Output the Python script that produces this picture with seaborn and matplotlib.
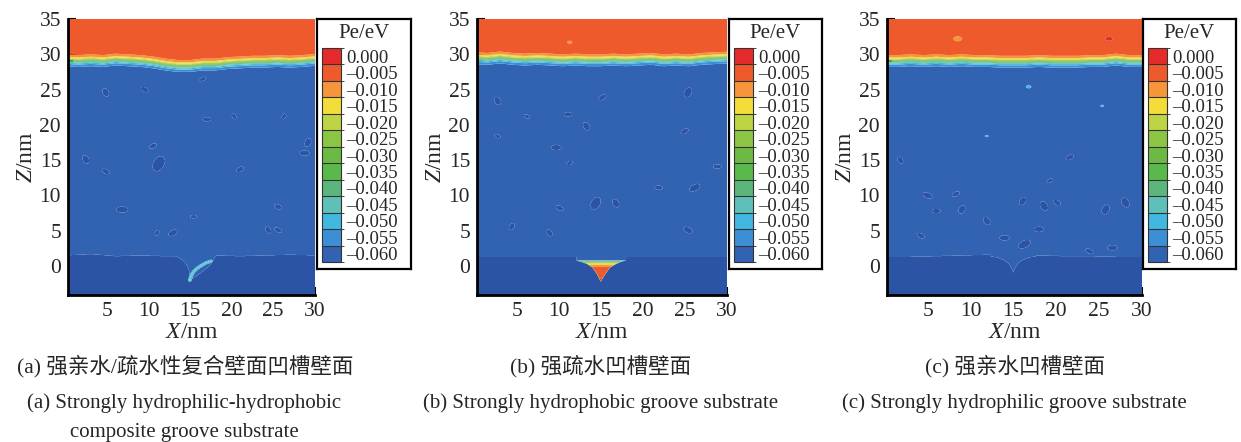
import numpy as np
import matplotlib
matplotlib.use("Agg")
import matplotlib.pyplot as plt
import seaborn as sns
from matplotlib.colors import ListedColormap, BoundaryNorm
from matplotlib.cm import ScalarMappable
from matplotlib.ticker import MultipleLocator, FixedLocator

sns.set_style("ticks")
plt.rcParams["font.family"] = ["Liberation Serif", "Noto Sans CJK SC", "DejaVu Sans"]
plt.rcParams["mathtext.fontset"] = "custom"
plt.rcParams["mathtext.it"] = "Liberation Serif:italic"
plt.rcParams["mathtext.rm"] = "Liberation Serif"

# ---------------- data ----------------
level_values = [0.000, -0.005, -0.010, -0.015, -0.020, -0.025, -0.030,
                -0.035, -0.040, -0.045, -0.050, -0.055, -0.060]
level_labels = ["0.000", "–0.005", "–0.010", "–0.015", "–0.020", "–0.025", "–0.030",
                "–0.035", "–0.040", "–0.045", "–0.050", "–0.055", "–0.060"]
level_colors = ["#e42a2a", "#ee5a2b", "#f7953a", "#f3dd3a", "#bdd445", "#8cc444", "#6cb944",
                "#5ab84c", "#5cb57a", "#5ec0b8", "#40b8e0", "#3d8fd5", "#3262b2"]
under_color = "#2c54a5"

x_ticks = [5, 10, 15, 20, 25, 30]
z_ticks = [0, 5, 10, 15, 20, 25, 30, 35]

vapor_pe = -0.005
liquid_pe = -0.060
solid_pe = -0.066

# liquid/vapour interface (upper edge of the yellow band), nm
iface_x = [0, 1.5, 3, 4.5, 6, 7.5, 9, 10.5, 12, 13.5, 15, 16.5, 18, 19.5, 21, 22.5, 24, 25.5, 27, 28.5, 30.5]
iface_a = [29.7, 29.6, 29.7, 29.6, 29.8, 29.7, 29.6, 29.4, 29.1, 28.9, 28.9, 29.1, 29.1, 29.3, 29.4, 29.5, 29.5, 29.6, 29.5, 29.6, 29.8]
iface_b = [30.0, 29.9, 30.1, 29.9, 29.8, 29.9, 29.8, 29.7, 29.8, 29.7, 29.7, 29.8, 29.7, 29.8, 29.9, 29.7, 29.8, 29.7, 29.9, 30.0, 30.1]
iface_c = [29.6, 29.6, 29.7, 29.6, 29.7, 29.6, 29.7, 29.6, 29.6, 29.5, 29.5, 29.5, 29.6, 29.5, 29.5, 29.5, 29.6, 29.6, 29.8, 29.6, 29.6]

# substrate top surface
surf_x = [0, 3, 6, 9, 12, 15, 18, 21, 24, 27, 30.5]
surf_a = [1.5, 1.7, 1.4, 1.5, 1.4, 1.4, 1.5, 1.4, 1.5, 1.6, 1.5]
surf_b = [1.3, 1.4, 1.2, 1.5, 1.4, 1.3, 1.4, 1.3, 1.5, 1.4, 1.3]
surf_c = [1.3, 1.3, 1.4, 1.5, 1.6, 1.5, 1.5, 1.4, 1.4, 1.3, 1.3]

# groove profiles
groove_a_x = [13.0, 13.8, 14.4, 14.8, 15.05, 15.4, 16.0, 16.8, 17.5, 18.1]
groove_a_z = [1.5, 1.1, 0.5, -0.4, -2.0, -1.7, -1.2, -0.5, 0.3, 1.5]
groove_b_x = [12.1, 12.7, 13.4, 14.0, 14.6, 15.0, 15.5, 16.1, 16.8, 17.4, 18.0]
groove_b_z = [0.8, 0.6, 0.3, -0.2, -1.2, -2.2, -1.2, -0.2, 0.3, 0.6, 0.8]
groove_c_x = [12.3, 13.2, 14.0, 14.5, 14.85, 15.0, 15.15, 15.5, 16.0, 16.8, 17.7]
groove_c_z = [1.4, 1.2, 0.8, 0.3, -0.4, -0.9, -0.4, 0.3, 0.8, 1.2, 1.4]

# panel (a) crescent film inside groove
arc_x = [14.95, 15.1, 15.4, 15.8, 16.3, 16.9, 17.5]
arc_z = [-2.0, -1.4, -0.8, -0.35, 0.05, 0.45, 0.7]
arc_pe = -0.050
arc_core_pe = -0.046

# panel (b) vapour pocket: depth below pocket top vs Pe
pocket_top_b = 0.8
pocket_depth = [0.0, 0.12, 0.3, 0.5, 0.75, 1.0, 2.3, 3.0]
pocket_pe = [-0.052, -0.040, -0.027, -0.016, -0.010, -0.005, -0.004, 0.000]

# darker clusters inside liquid (x, z, radius)
blob_a_x = [4.8, 9.5, 17.0, 10.5, 11.2, 2.4, 4.8, 6.8, 12.9, 11.0, 24.4, 25.6, 28.8, 21.0, 26.3, 20.3, 25.6, 15.4, 16.5, 29.2]
blob_a_z = [24.6, 25.0, 20.8, 17.0, 14.5, 15.1, 13.4, 8.0, 4.7, 4.7, 5.1, 5.1, 16.0, 13.7, 21.2, 21.2, 8.4, 7.0, 26.5, 17.5]
blob_a_r = [0.6, 0.5, 0.5, 0.5, 1.1, 0.6, 0.5, 0.7, 0.6, 0.4, 0.5, 0.5, 0.6, 0.5, 0.4, 0.4, 0.5, 0.4, 0.4, 0.6]

blob_b_x = [2.7, 6.2, 11.1, 15.2, 25.4, 13.3, 2.7, 9.7, 25.0, 14.4, 16.8, 10.1, 21.9, 26.2, 4.4, 8.9, 25.4, 28.9, 11.3]
blob_b_z = [23.4, 21.2, 21.5, 23.9, 24.6, 19.8, 18.4, 16.8, 19.1, 8.9, 8.9, 8.2, 11.1, 11.1, 5.6, 4.7, 5.1, 14.1, 14.6]
blob_b_r = [0.6, 0.4, 0.5, 0.5, 0.7, 0.6, 0.4, 0.6, 0.5, 0.9, 0.6, 0.5, 0.5, 0.7, 0.5, 0.5, 0.6, 0.5, 0.4]

blob_c_x = [1.8, 5.0, 6.0, 8.3, 9.0, 11.9, 4.2, 14.0, 16.3, 16.1, 18.6, 20.1, 18.0, 21.6, 25.8, 28.1, 23.9, 26.6, 19.3]
blob_c_z = [15.0, 10.0, 7.8, 10.2, 8.0, 6.4, 4.3, 4.0, 3.1, 9.2, 8.5, 9.0, 5.2, 15.4, 8.0, 9.0, 2.1, 2.6, 12.1]
blob_c_r = [0.5, 0.6, 0.5, 0.5, 0.6, 0.6, 0.5, 0.6, 0.8, 0.6, 0.7, 0.5, 0.6, 0.5, 0.7, 0.7, 0.5, 0.6, 0.4]

# small isolated spots (x, z, radius, Pe)
spot_b_x = [11.3]
spot_b_z = [31.7]
spot_b_r = [0.3]
spot_b_v = [-0.012]

spot_c_x = [8.5, 26.2, 16.8, 25.4, 11.9]
spot_c_z = [32.2, 32.2, 25.4, 22.7, 18.4]
spot_c_r = [0.5, 0.4, 0.3, 0.2, 0.2]
spot_c_v = [-0.010, 0.000, -0.050, -0.050, -0.050]

captions_cn = ["(a) 强亲水/疏水性复合壁面凹槽壁面", "(b) 强疏水凹槽壁面", "(c) 强亲水凹槽壁面"]
captions_en_a = ["(a) Strongly hydrophilic-hydrophobic", "composite groove substrate"]
captions_en = ["(b) Strongly hydrophobic groove substrate",
               "(c) Strongly hydrophilic groove substrate"]

# ---------------- field construction ----------------
gx = np.arange(0.0, 30.6, 0.04)
gz = np.arange(-4.5, 35.3, 0.04)
X, Z = np.meshgrid(gx, gz)


def polyline_dist(px, pz):
    d = np.full(X.shape, np.inf)
    for i in range(len(px) - 1):
        ax_, az_ = px[i], pz[i]
        vx, vz = px[i + 1] - ax_, pz[i + 1] - az_
        t = np.clip(((X - ax_) * vx + (Z - az_) * vz) / (vx * vx + vz * vz), 0, 1)
        d = np.minimum(d, np.hypot(X - ax_ - t * vx, Z - az_ - t * vz))
    return d


def build(iface, surf, gxs, gzs, bx, bz, br, sx, sz, sr, sv):
    h = np.interp(gx, iface_x, iface)[None, :] - 0.55
    s = 0.5 * (1 + np.tanh((Z - h) / 0.55))
    F = liquid_pe + (vapor_pe - liquid_pe) * s
    for k, (x0, z0, r) in enumerate(zip(bx, bz, br)):
        ang = 0.6 * ((k % 5) - 2)
        dx, dz = X - x0, Z - z0
        u = dx * np.cos(ang) + dz * np.sin(ang)
        v = -dx * np.sin(ang) + dz * np.cos(ang)
        m = (u / r) ** 2 + (v / (0.6 * r)) ** 2 < 1
        F[m] = solid_pe
    zs = np.minimum(np.interp(gx, surf_x, surf),
                    np.interp(gx, gxs, gzs, left=99, right=99))[None, :]
    F = np.where(Z < zs, solid_pe, F)
    for x0, z0, r, v in zip(sx, sz, sr, sv):
        m = ((X - x0) / r) ** 2 + ((Z - z0) / (0.7 * r)) ** 2 < 1
        F[m] = v
    return F


F_a = build(iface_a, surf_a, groove_a_x, groove_a_z, blob_a_x, blob_a_z, blob_a_r, [], [], [], [])
d_arc = polyline_dist(arc_x, arc_z)
F_a[d_arc < 0.2] = arc_pe
F_a[d_arc < 0.07] = arc_core_pe

F_b = build(iface_b, surf_b, [-1, 31], [-99, -99], blob_b_x, blob_b_z, blob_b_r,
            spot_b_x, spot_b_z, spot_b_r, spot_b_v)
gb = np.interp(gx, groove_b_x, groove_b_z, left=99, right=99)[None, :]
in_pocket = (Z > gb) & (Z < pocket_top_b)
depth = pocket_top_b - Z
F_b = np.where(in_pocket, np.interp(depth, pocket_depth, pocket_pe), F_b)
F_b = np.where((Z < gb) & (Z < 1.3), solid_pe, F_b)

F_c = build(iface_c, surf_c, groove_c_x, groove_c_z, blob_c_x, blob_c_z, blob_c_r,
            spot_c_x, spot_c_z, spot_c_r, spot_c_v)

# ---------------- figure ----------------
W, H = 1241, 442
fig = plt.figure(figsize=(W / 100, H / 100), dpi=100)


def fx(px):
    return px / W


def fy(py):
    return 1 - py / H


asc_vals = level_values[::-1]
asc_cols = level_colors[::-1]
edges = [v - 0.0025 for v in asc_vals] + [asc_vals[-1] + 0.0025]

panels = [
    (F_a, 68, 315, 317, 411),
    (F_b, 477, 727, 729, 822),
    (F_c, 887, 1142, 1143, 1236),
]
ax_top, ax_bot = 19, 295
box_top, box_bot = 19, 269

for F, left, right, bl, br_ in panels:
    ax = fig.add_axes([fx(left), fy(ax_bot), fx(right - left), (ax_bot - ax_top) / H])
    ax.contourf(X, Z, F, levels=edges, colors=[under_color] + asc_cols, extend="min",
                antialiased=True)
    ax.set_xlim(0.25, 30.05)
    ax.set_ylim(-4.1, 35)
    ax.xaxis.set_major_locator(FixedLocator(x_ticks))
    ax.yaxis.set_major_locator(FixedLocator(z_ticks))
    ax.xaxis.set_minor_locator(MultipleLocator(1))
    ax.yaxis.set_minor_locator(MultipleLocator(1))
    ax.tick_params(which="major", direction="in", length=6, width=1.5, labelsize=15.5,
                   pad=5, color="black", top=False, right=False)
    ax.tick_params(which="minor", direction="in", length=3.5, width=1.2,
                   color="black", top=False, right=False)
    for sp in ("top", "right"):
        ax.spines[sp].set_visible(False)
    for sp in ("left", "bottom"):
        ax.spines[sp].set_linewidth(2)
        ax.spines[sp].set_color("black")
    ax.set_xlabel("$X$/nm", fontsize=17, labelpad=1)
    ax.set_ylabel("$Z$/nm", fontsize=17, labelpad=2)

    # legend box
    bax = fig.add_axes([fx(bl), fy(box_bot), fx(br_ - bl), (box_bot - box_top) / H])
    bax.set_xticks([])
    bax.set_yticks([])
    bax.set_facecolor("white")
    for sp in bax.spines.values():
        sp.set_linewidth(1.6)
        sp.set_color("black")
    bax.text(0.5, 1 - 14 / (box_bot - box_top), "Pe/eV", transform=bax.transAxes,
             ha="center", va="center", fontsize=15)
    cax = fig.add_axes([fx(bl + 5), fy(262), fx(19), (262 - 48) / H])
    sm = ScalarMappable(norm=BoundaryNorm(edges, len(asc_cols)), cmap=ListedColormap(asc_cols))
    cb = fig.colorbar(sm, cax=cax, ticks=asc_vals, drawedges=True)
    cb.ax.set_yticklabels(level_labels[::-1])
    cb.ax.tick_params(length=0, labelsize=13.5, pad=4)
    cb.outline.set_linewidth(0.8)
    cb.outline.set_edgecolor("#333333")
    cb.dividers.set_color("#333333")
    cb.dividers.set_linewidth(0.8)

cap_x = [185, 601, 1015]
for i in range(3):
    fig.text(fx(cap_x[i]), fy(366), captions_cn[i], ha="center", va="center",
             fontsize=15.5, family=["Liberation Serif", "Noto Sans CJK SC"])
fig.text(fx(184), fy(403), captions_en_a[0], ha="center", va="center", fontsize=15)
fig.text(fx(184), fy(432), captions_en_a[1], ha="center", va="center", fontsize=15)
fig.text(fx(601), fy(403), captions_en[0], ha="center", va="center", fontsize=15)
fig.text(fx(1014), fy(403), captions_en[1], ha="center", va="center", fontsize=15)

fig.savefig("out.png", dpi=100)
